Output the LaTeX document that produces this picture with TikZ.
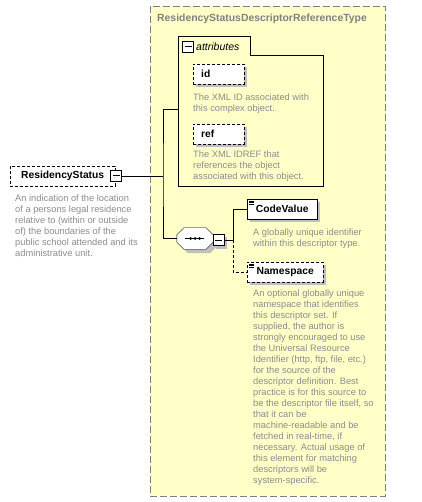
\documentclass[tikz,border=0pt]{standalone}
\usepackage{fontspec}
\setmainfont{Liberation Sans}
\definecolor{typeyellow}{HTML}{FFFFC8}
\definecolor{notegray}{HTML}{8C8C8C}
\pgfdeclarelayer{back}
\pgfdeclarelayer{shadow}
\pgfsetlayers{back,shadow,main}
\newcommand{\octpath}[2]{([shift={(7+#2,#2)}]#1.north west) -- ([shift={(-7+#2,#2)}]#1.north east) -- ([shift={(#2,7+#2)}]#1.north east)
   -- ([shift={(#2,-7+#2)}]#1.south east) -- ([shift={(-7+#2,#2)}]#1.south east) -- ([shift={(7+#2,#2)}]#1.south west)
   -- ([shift={(#2,-7+#2)}]#1.south west) -- ([shift={(#2,7+#2)}]#1.north west) -- cycle}

\begin{document}
\begin{tikzpicture}[x=1pt, y=-1pt, line width=1pt]
   \tikzset{elem/.style={draw, dash pattern=on 3pt off 2pt, fill=white, inner sep=0pt, minimum height=20pt, font=\bfseries\fontsize{10.3}{12}\selectfont}}
   \tikzset{attr/.style={elem, anchor=north west, text width=35pt, inner xsep=8pt, align=left}}
   \tikzset{note/.style={anchor=north west, inner sep=0pt, align=left, text=notegray, font=\fontsize{9.3}{11}\selectfont}}
   \tikzset{foldbox/.style={draw, solid, fill=white, minimum size=11pt, inner sep=0pt, path picture={\draw[line width=1pt] ([xshift=2pt]path picture bounding box.west) -- ([xshift=-2pt]path picture bounding box.east);}}}
   \tikzset{shadowfill/.style={fill=black!25}}
   \useasboundingbox (0,0) rectangle (421,502);
   \begin{pgfonlayer}{back}
   \node[draw=black!50, dash pattern=on 7pt off 3pt, fill=typeyellow, anchor=north west, minimum width=235pt, minimum height=490pt, inner sep=0pt] (rsType) at (150,6) {};
   \end{pgfonlayer}
   \node[anchor=north west, inner sep=0pt, text=black!50, font=\bfseries\fontsize{10.4}{12}\selectfont] (rsTitle) at (157,14) {ResidencyStatusDescriptorReferenceType};
   \draw (178,36) -- (250,36) -- (250,55) -- (323,55) -- (323,186) -- (178,186) -- cycle;
   \node[foldbox] (attrFold) at (188,47) {};
   \node[anchor=west, inner sep=0pt, font=\itshape\fontsize{10.5}{12}\selectfont] (attrLabel) at (196,47) {attributes};
   \node[attr] (id) at (193,64) {id};
   \node[note] (idNote) at (193,94) {The XML ID associated with\\this complex object.};
   \node[attr] (ref) at (193,124) {ref};
   \node[note] (refNote) at (193,151) {The XML IDREF that\\references the object\\associated with this object.};
   \coordinate (split) at (163,176);
   \coordinate (attrIn) at (178,109);
   \coordinate (fork) at (233,240);
   \node[elem, minimum width=105pt, anchor=north west] (rs) at (10,166) {ResidencyStatus};
   \node[foldbox] (rsFold) at (116,176) {};
   \node[note] (rsNote) at (15,195) {An indication of the location\\of a persons legal residence\\relative to (within or outside\\of) the boundaries of the\\public school attended and its\\administrative unit.};
   \node[inner sep=0pt, minimum width=36pt, minimum height=21pt] (seq) at (195,238.5) {};
   \draw[fill=white] \octpath{seq}{0};
   \draw ([xshift=-10pt]seq.center) -- ([xshift=9pt]seq.center);
   \foreach \dx in {-4.5,0,4.5}
      \fill ([xshift=\dx pt]seq.center) circle (1.5pt);
   \node[foldbox] (seqFold) at (218.5,240) {};
   \node[elem, solid, minimum width=70pt, anchor=north west] (codeValue) at (247,199) {CodeValue};
   \node[note] (cvNote) at (253,229) {A globally unique identifier\\within this descriptor type.};
   \node[elem, minimum width=76pt, anchor=north west] (namespace) at (247,262) {Namespace};
   \node[note] (nsNote) at (253,290) {An optional globally unique\\namespace that identifies\\this descriptor set. If\\supplied, the author is\\strongly encouraged to use\\the Universal Resource\\Identifier (http, ftp, file, etc.)\\for the source of the\\descriptor definition. Best\\practice is for this source to\\be the descriptor file itself, so\\that it can be\\machine-readable and be\\fetched in real-time, if\\necessary. Actual usage of\\this element for matching\\descriptors will be\\system-specific.};
   \foreach \n in {codeValue, namespace}
      \foreach \d in {2,3.5,5}
         \draw[line width=0.6pt, solid] ([xshift=2pt, yshift=-\d pt]\n.north west) -- ++(5,0);
   \begin{pgfonlayer}{shadow}
   \foreach \n in {id, ref, codeValue, namespace, seqFold}
      \fill[shadowfill] ([shift={(3,3)}]\n.north west) rectangle ([shift={(3,3)}]\n.south east);
   \fill[shadowfill] \octpath{seq}{4};
   \end{pgfonlayer}
   \draw (rsFold) -- (split);
   \draw (attrIn) -| (split) |- (seq.west);
   \draw (seqFold) -- (fork);
   \draw (fork) |- (codeValue);
   \draw[dash pattern=on 3pt off 2pt] (fork) |- (namespace);
\end{tikzpicture}
\end{document}
